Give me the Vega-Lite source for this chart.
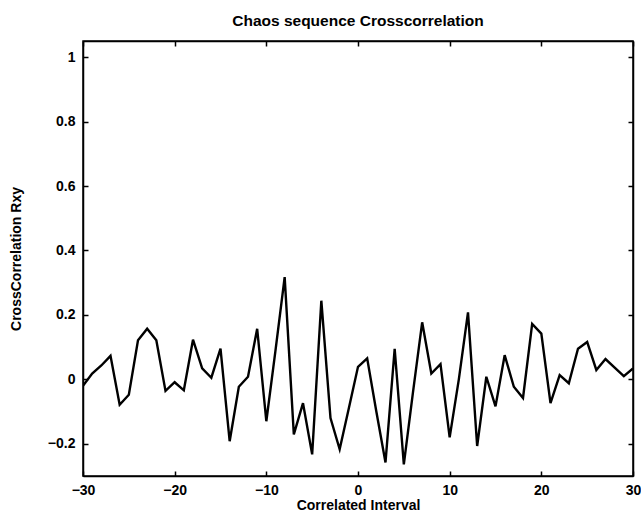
{
  "$schema": "https://vega.github.io/schema/vega-lite/v6.json",
  "autosize": {"type": "none"},
  "width": 550,
  "height": 435,
  "padding": {"left": 83, "top": 41, "right": 8, "bottom": 41},
  "background": "white",
  "title": {"text": "Chaos sequence Crosscorrelation", "fontSize": 15.5, "fontWeight": "bold", "font": "Liberation Sans", "color": "black", "offset": 11},
  "config": {
    "view": {"stroke": "black", "strokeWidth": 1.5},
    "axis": {"labelFont": "Liberation Sans", "titleFont": "Liberation Sans", "labelFontSize": 14, "titleFontSize": 14, "labelFontWeight": "bold", "titleFontWeight": "bold", "labelColor": "black", "titleColor": "black", "domainColor": "black", "tickColor": "black", "domainWidth": 1.5, "tickWidth": 1.5, "grid": false}
  },
  "data": {"values": [
    {"lag": -30, "r": -0.02}, {"lag": -29, "r": 0.018}, {"lag": -28, "r": 0.043}, {"lag": -27, "r": 0.073},
    {"lag": -26, "r": -0.079}, {"lag": -25, "r": -0.048}, {"lag": -24, "r": 0.121}, {"lag": -23, "r": 0.157},
    {"lag": -22, "r": 0.121}, {"lag": -21, "r": -0.036}, {"lag": -20, "r": -0.009}, {"lag": -19, "r": -0.034},
    {"lag": -18, "r": 0.123}, {"lag": -17, "r": 0.034}, {"lag": -16, "r": 0.005}, {"lag": -15, "r": 0.095},
    {"lag": -14, "r": -0.192}, {"lag": -13, "r": -0.023}, {"lag": -12, "r": 0.008}, {"lag": -11, "r": 0.157},
    {"lag": -10, "r": -0.13}, {"lag": -9, "r": 0.09}, {"lag": -8, "r": 0.317}, {"lag": -7, "r": -0.171},
    {"lag": -6, "r": -0.074}, {"lag": -5, "r": -0.233}, {"lag": -4, "r": 0.244}, {"lag": -3, "r": -0.12},
    {"lag": -2, "r": -0.217}, {"lag": -1, "r": -0.09}, {"lag": 0, "r": 0.039}, {"lag": 1, "r": 0.065},
    {"lag": 2, "r": -0.1}, {"lag": 3, "r": -0.258}, {"lag": 4, "r": 0.095}, {"lag": 5, "r": -0.264},
    {"lag": 6, "r": -0.04}, {"lag": 7, "r": 0.177}, {"lag": 8, "r": 0.018}, {"lag": 9, "r": 0.047},
    {"lag": 10, "r": -0.18}, {"lag": 11, "r": 0.0}, {"lag": 12, "r": 0.208}, {"lag": 13, "r": -0.207},
    {"lag": 14, "r": 0.008}, {"lag": 15, "r": -0.084}, {"lag": 16, "r": 0.075}, {"lag": 17, "r": -0.023},
    {"lag": 18, "r": -0.058}, {"lag": 19, "r": 0.172}, {"lag": 20, "r": 0.142}, {"lag": 21, "r": -0.074},
    {"lag": 22, "r": 0.013}, {"lag": 23, "r": -0.012}, {"lag": 24, "r": 0.095}, {"lag": 25, "r": 0.116},
    {"lag": 26, "r": 0.029}, {"lag": 27, "r": 0.063}, {"lag": 28, "r": 0.036}, {"lag": 29, "r": 0.01},
    {"lag": 30, "r": 0.034}
  ]},
  "resolve": {"axis": {"x": "independent", "y": "independent"}},
  "layer": [
    {
      "mark": {"type": "line", "color": "black", "strokeWidth": 2.4, "clip": true},
      "encoding": {
        "x": {"field": "lag", "type": "quantitative", "scale": {"domain": [-30, 30], "nice": false, "zero": false},
          "axis": {"title": "Correlated Interval", "values": [-30, -20, -10, 0, 10, 20, 30], "tickSize": -5, "labelPadding": 12, "titlePadding": 1, "labelFlush": false}},
        "y": {"field": "r", "type": "quantitative", "scale": {"domain": [-0.3, 1.05], "nice": false, "zero": false},
          "axis": {"title": "CrossCorrelation Rxy", "values": [-0.2, 0, 0.2, 0.4, 0.6, 0.8, 1], "tickSize": -5, "labelPadding": 13, "titlePadding": 24, "labelExpr": "datum.value == 0 ? '0' : datum.value == 1 ? '1' : datum.label"}}
      }
    },
    {
      "mark": {"type": "line", "opacity": 0},
      "encoding": {
        "x": {"field": "lag", "type": "quantitative", "scale": {"domain": [-30, 30], "nice": false, "zero": false},
          "axis": {"orient": "top", "title": null, "labels": false, "values": [-30, -20, -10, 0, 10, 20, 30], "tickSize": -5}},
        "y": {"field": "r", "type": "quantitative", "scale": {"domain": [-0.3, 1.05], "nice": false, "zero": false},
          "axis": {"orient": "right", "title": null, "labels": false, "values": [-0.2, 0, 0.2, 0.4, 0.6, 0.8, 1], "tickSize": -5}}
      }
    }
  ]
}
